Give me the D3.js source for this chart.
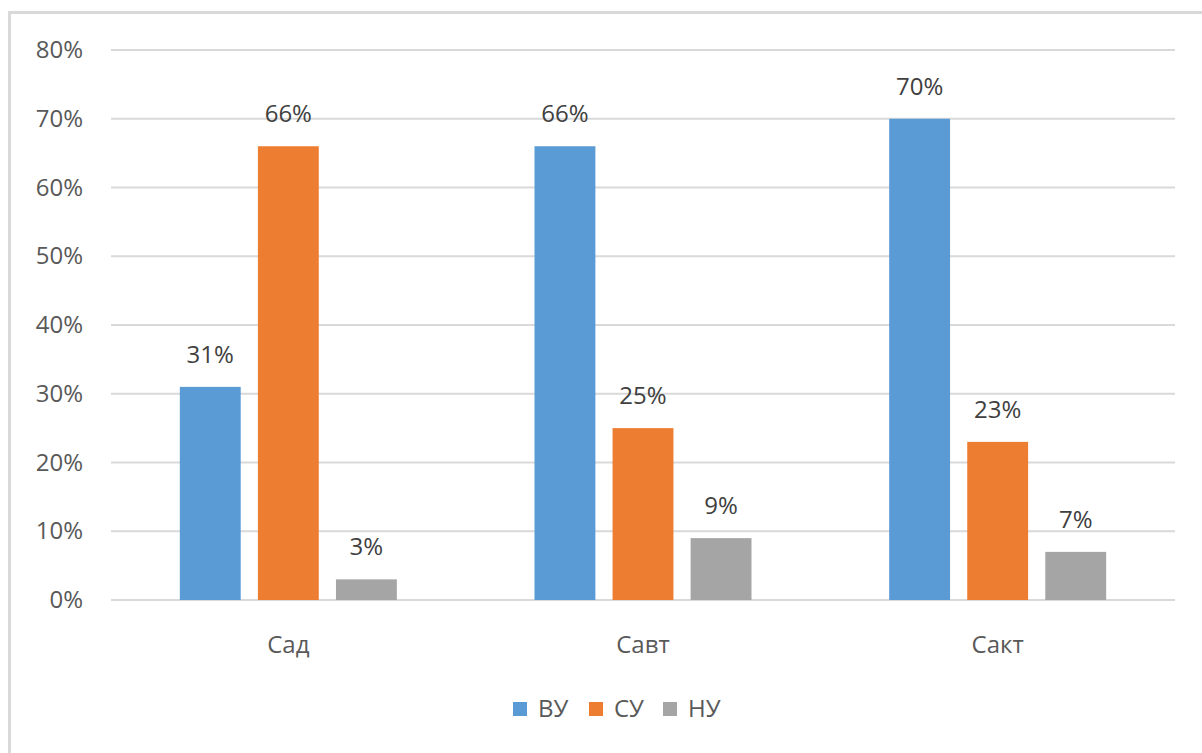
<!DOCTYPE html>
<html>
<head>
<meta charset="utf-8">
<script src="https://d3js.org/d3.v7.min.js"></script>
<style>
  body { margin: 0; background: #fff; }
  svg { display: block; font-family: "Open Sans", "Noto Sans", sans-serif; }
</style>
</head>
<body>
<div id="chart"></div>
<script>
const categories = ['Сад', 'Савт', 'Сакт'];
const seriesNames = ['ВУ', 'СУ', 'НУ'];
const seriesColors = ['#5b9bd5', '#ed7d31', '#a5a5a5'];
const vuValues = [0.31, 0.66, 0.70];
const suValues = [0.66, 0.25, 0.23];
const nuValues = [0.03, 0.09, 0.07];
const yTicks = [0, 0.1, 0.2, 0.3, 0.4, 0.5, 0.6, 0.7, 0.8];

const width = 1202;
const height = 753;
const plot = { left: 111, right: 1175, top: 50, bottom: 600 };
const fontSize = '24px';

const svg = d3.select('#chart')
  .append('svg')
  .attr('width', width)
  .attr('height', height);

// outer frame (runs off the right and bottom edges, as in the screenshot)
svg.append('rect')
  .attr('x', 9.5)
  .attr('y', 12.5)
  .attr('width', width + 20)
  .attr('height', height + 20)
  .attr('fill', 'none')
  .attr('stroke', '#d9d9d9')
  .attr('stroke-width', 3);

const x0 = d3.scaleBand()
  .domain(categories)
  .range([plot.left, plot.right]);

const x1 = d3.scaleBand()
  .domain(seriesNames)
  .range([0, 217])
  .paddingInner(0.22);

const y = d3.scaleLinear()
  .domain([0, 0.8])
  .range([plot.bottom, plot.top]);

// gridlines
svg.append('g')
  .selectAll('line')
  .data(yTicks)
  .enter()
  .append('line')
  .attr('x1', plot.left)
  .attr('x2', plot.right)
  .attr('y1', d => y(d))
  .attr('y2', d => y(d))
  .attr('stroke', '#d9d9d9')
  .attr('stroke-width', 2);

// y axis labels
const yAxis = svg.append('g')
  .attr('transform', `translate(${plot.left - 28}, 0)`)
  .call(d3.axisLeft(y).tickValues(yTicks).tickFormat(d3.format('.0%')).tickSize(0).tickPadding(0));
yAxis.select('.domain').remove();
yAxis.selectAll('text')
  .attr('font-size', fontSize)
  .attr('font-family', '"Open Sans", "Noto Sans", sans-serif')
  .attr('fill', '#595959');

// x axis labels
const xAxis = svg.append('g')
  .attr('transform', `translate(0, ${plot.bottom})`)
  .call(d3.axisBottom(x0).tickSize(0).tickPadding(0));
xAxis.select('.domain').remove();
xAxis.selectAll('text')
  .attr('y', 53)
  .attr('dy', null)
  .attr('font-size', fontSize)
  .attr('font-family', '"Open Sans", "Noto Sans", sans-serif')
  .attr('fill', '#595959');

const rows = categories.map((c, i) => ({
  category: c,
  values: [vuValues[i], suValues[i], nuValues[i]]
}));

const groups = svg.selectAll('.group')
  .data(rows)
  .enter()
  .append('g')
  .attr('class', 'group')
  .attr('transform', d => `translate(${x0(d.category) + x0.bandwidth() / 2 - 108.5}, 0)`);

const cells = groups.selectAll('.cell')
  .data(d => d.values.map((v, j) => ({ name: seriesNames[j], value: v, color: seriesColors[j] })))
  .enter()
  .append('g');

cells.append('rect')
  .attr('x', d => x1(d.name))
  .attr('y', d => y(d.value))
  .attr('width', x1.bandwidth())
  .attr('height', d => y(0) - y(d.value))
  .attr('fill', d => d.color);

cells.append('text')
  .attr('x', d => x1(d.name) + x1.bandwidth() / 2)
  .attr('y', d => y(d.value) - 24)
  .attr('text-anchor', 'middle')
  .attr('font-size', fontSize)
  .attr('fill', '#404040')
  .text(d => d3.format('.0%')(d.value));

// legend
const legendX = [513, 589, 663];
const legend = svg.append('g');
const items = legend.selectAll('.legend-item')
  .data(seriesNames)
  .enter()
  .append('g')
  .attr('class', 'legend-item')
  .attr('transform', (d, i) => `translate(${legendX[i]}, 702)`);

items.append('rect')
  .attr('width', 14)
  .attr('height', 14)
  .attr('fill', (d, i) => seriesColors[i]);

items.append('text')
  .attr('x', 25)
  .attr('y', 15)
  .attr('font-size', fontSize)
  .attr('fill', '#595959')
  .text(d => d);
</script>
</body>
</html>
